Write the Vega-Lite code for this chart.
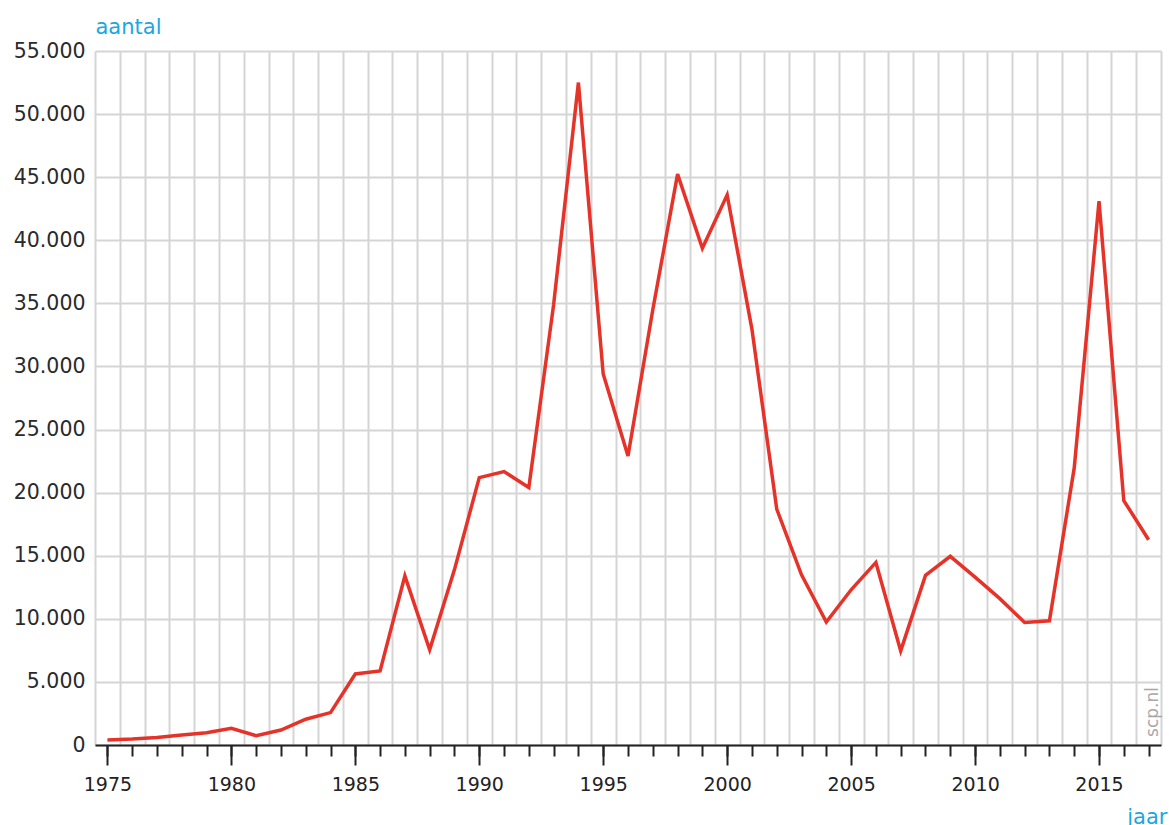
{
  "$schema": "https://vega.github.io/schema/vega-lite/v6.json",
  "autosize": "none",
  "width": 1066,
  "height": 694,
  "padding": {"left": 95, "top": 51, "right": 8, "bottom": 80},
  "background": "white",
  "config": {"view": {"stroke": null}},
  "data": {"values": [
    {"jaar": 1975, "aantal": 400},
    {"jaar": 1976, "aantal": 470},
    {"jaar": 1977, "aantal": 600},
    {"jaar": 1978, "aantal": 790},
    {"jaar": 1979, "aantal": 970},
    {"jaar": 1980, "aantal": 1320},
    {"jaar": 1981, "aantal": 740},
    {"jaar": 1982, "aantal": 1190},
    {"jaar": 1983, "aantal": 2040},
    {"jaar": 1984, "aantal": 2570},
    {"jaar": 1985, "aantal": 5630},
    {"jaar": 1986, "aantal": 5870},
    {"jaar": 1987, "aantal": 13400},
    {"jaar": 1988, "aantal": 7540},
    {"jaar": 1989, "aantal": 13900},
    {"jaar": 1990, "aantal": 21190},
    {"jaar": 1991, "aantal": 21670},
    {"jaar": 1992, "aantal": 20400},
    {"jaar": 1993, "aantal": 34900},
    {"jaar": 1994, "aantal": 52500},
    {"jaar": 1995, "aantal": 29400},
    {"jaar": 1996, "aantal": 22900},
    {"jaar": 1997, "aantal": 34500},
    {"jaar": 1998, "aantal": 45240},
    {"jaar": 1999, "aantal": 39370},
    {"jaar": 2000, "aantal": 43600},
    {"jaar": 2001, "aantal": 32940},
    {"jaar": 2002, "aantal": 18700},
    {"jaar": 2003, "aantal": 13490},
    {"jaar": 2004, "aantal": 9740},
    {"jaar": 2005, "aantal": 12300},
    {"jaar": 2006, "aantal": 14470},
    {"jaar": 2007, "aantal": 7460},
    {"jaar": 2008, "aantal": 13440},
    {"jaar": 2009, "aantal": 14950},
    {"jaar": 2010, "aantal": 13300},
    {"jaar": 2011, "aantal": 11600},
    {"jaar": 2012, "aantal": 9710},
    {"jaar": 2013, "aantal": 9840},
    {"jaar": 2014, "aantal": 21960},
    {"jaar": 2015, "aantal": 43100},
    {"jaar": 2016, "aantal": 19370},
    {"jaar": 2017, "aantal": 16270}
  ]},
  "resolve": {"axis": {"x": "independent"}},
  "layer": [
    {
      "mark": {"type": "line", "color": "#e6332a", "strokeWidth": 3.5, "strokeJoin": "miter"},
      "encoding": {
        "x": {
          "field": "jaar", "type": "quantitative",
          "scale": {"domain": [1974.5, 2017.5], "nice": false, "zero": false},
          "axis": {
            "orient": "bottom",
            "values": [1974.5, 1975.5, 1976.5, 1977.5, 1978.5, 1979.5, 1980.5, 1981.5, 1982.5, 1983.5, 1984.5, 1985.5, 1986.5, 1987.5, 1988.5, 1989.5, 1990.5, 1991.5, 1992.5, 1993.5, 1994.5, 1995.5, 1996.5, 1997.5, 1998.5, 1999.5, 2000.5, 2001.5, 2002.5, 2003.5, 2004.5, 2005.5, 2006.5, 2007.5, 2008.5, 2009.5, 2010.5, 2011.5, 2012.5, 2013.5, 2014.5, 2015.5, 2016.5, 2017.5],
            "grid": true, "gridColor": "#d5d5d5", "gridWidth": 2,
            "labels": false, "ticks": false, "domain": false, "title": null
          }
        },
        "y": {
          "field": "aantal", "type": "quantitative",
          "scale": {"domain": [0, 55000], "nice": false},
          "axis": {
            "values": [0, 5000, 10000, 15000, 20000, 25000, 30000, 35000, 40000, 45000, 50000, 55000],
            "grid": true, "gridColor": "#d5d5d5", "gridWidth": 2,
            "ticks": false, "domain": false,
            "labelExpr": "replace(format(datum.value, ','), ',', '.')",
            "labelFont": "DejaVu Sans", "labelFontSize": 20.5, "labelColor": "#2a2a2a",
            "labelPadding": 10, "labelAlign": "right", "labelBaseline": "middle",
            "title": "aantal", "titleAngle": 0, "titleX": 0, "titleY": -18,
            "titleAlign": "left", "titleBaseline": "alphabetic",
            "titleFont": "DejaVu Sans", "titleFontSize": 21, "titleFontWeight": "normal",
            "titleColor": "#1aa7e2"
          }
        }
      }
    },
    {
      "mark": {"type": "line", "opacity": 0},
      "encoding": {
        "x": {
          "field": "jaar", "type": "quantitative",
          "axis": {
            "orient": "bottom",
            "values": [1975, 1976, 1977, 1978, 1979, 1980, 1981, 1982, 1983, 1984, 1985, 1986, 1987, 1988, 1989, 1990, 1991, 1992, 1993, 1994, 1995, 1996, 1997, 1998, 1999, 2000, 2001, 2002, 2003, 2004, 2005, 2006, 2007, 2008, 2009, 2010, 2011, 2012, 2013, 2014, 2015, 2016, 2017],
            "grid": false, "labels": false, "domain": false,
            "ticks": true, "tickSize": 11, "tickWidth": 2, "tickColor": "#222222",
            "title": null
          }
        },
        "y": {"field": "aantal", "type": "quantitative"}
      }
    },
    {
      "mark": {"type": "line", "opacity": 0},
      "encoding": {
        "x": {
          "field": "jaar", "type": "quantitative",
          "axis": {
            "orient": "bottom",
            "values": [1975, 1980, 1985, 1990, 1995, 2000, 2005, 2010, 2015],
            "grid": false, "format": "d",
            "domain": true, "domainColor": "#222222", "domainWidth": 2,
            "ticks": true, "tickSize": 20, "tickWidth": 2, "tickColor": "#222222",
            "labelFont": "DejaVu Sans", "labelFontSize": 19, "labelColor": "#222222",
            "labelPadding": 10,
            "title": "jaar", "titleX": 1072, "titleY": 78,
            "titleAlign": "right", "titleBaseline": "alphabetic",
            "titleFont": "DejaVu Sans", "titleFontSize": 21, "titleFontWeight": "normal",
            "titleColor": "#1aa7e2"
          }
        },
        "y": {"field": "aantal", "type": "quantitative"}
      }
    },
    {
      "data": {"values": [{"bron": "scp.nl"}]},
      "mark": {"type": "text", "angle": 270, "align": "left", "baseline": "middle", "font": "DejaVu Sans", "fontSize": 17, "color": "#a8a8a8"},
      "encoding": {
        "text": {"field": "bron"},
        "x": {"datum": 2017.17, "type": "quantitative", "axis": null},
        "y": {"datum": 640, "type": "quantitative"}
      }
    }
  ]
}
